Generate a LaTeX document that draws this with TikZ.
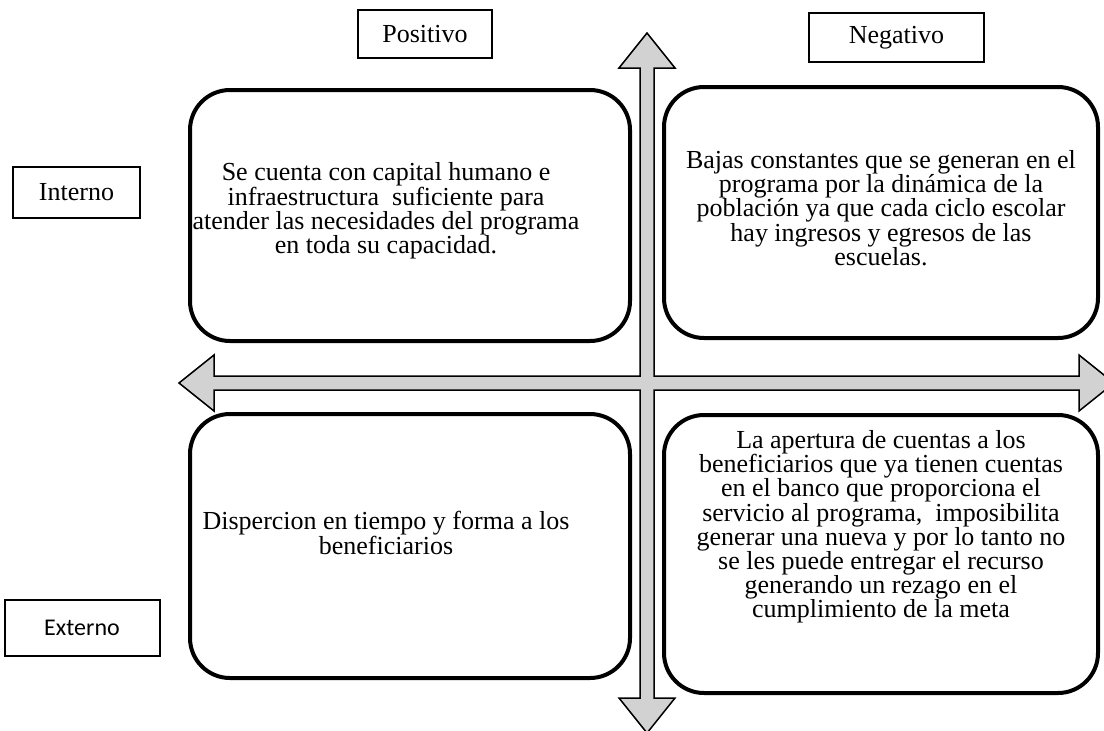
\documentclass[tikz,border=0pt]{standalone}
\usepackage{fontspec}
\setmainfont{Liberation Serif}
\newfontfamily\calibrifont{Carlito}
\definecolor{arrowgray}{RGB}{210,210,210}

\begin{document}
\begin{tikzpicture}[x=1pt,y=-1pt,
    quad box/.style={draw,line width=4pt,rounded corners=40pt},
    quad text/.style={align=center,inner sep=0pt,font=\fontsize{26}{24.2}\selectfont},
    side label/.style={draw,line width=2pt,inner sep=0pt,font=\fontsize{26}{30}\selectfont}]

    \useasboundingbox (0,0) rectangle (1104,731);
    \clip (0,0) rectangle (1104,731);

    % Define cross arrows
    \filldraw[fill=arrowgray,line width=1.5pt,line join=miter]
        (647,33) -- (675,68) -- (654,68) -- (654,376) -- (1079,376) -- (1079,355)
        -- (1114,383) -- (1079,411) -- (1079,390) -- (654,390) -- (654,698)
        -- (675,698) -- (647,733) -- (619,698) -- (640,698) -- (640,390)
        -- (214,390) -- (214,411) -- (179,383) -- (214,355) -- (214,376)
        -- (640,376) -- (640,68) -- (619,68) -- cycle;

    % Define boxes
    \node[quad box,minimum width=440pt,minimum height=251pt] (posint) at (410,215.5) {};
    \node[quad box,minimum width=434pt,minimum height=251pt] (negint) at (881,212.5) {};
    \node[quad box,minimum width=440pt,minimum height=264pt] (posext) at (410,546) {};
    \node[quad box,minimum width=434pt,minimum height=278pt] (negext) at (881,554) {};

    % Define texts
    \node[quad text] (posinttext) at (386,211) {Se cuenta con capital humano e\\
        infraestructura\ \ suficiente para\\
        atender las necesidades del programa\\
        en toda su capacidad.};
    \node[quad text] (neginttext) at (881,208) {Bajas constantes que se generan en el\\
        programa por la dinámica de la\\
        población ya que cada ciclo escolar\\
        hay ingresos y egresos de las\\
        escuelas.};
    \node[quad text] (posexttext) at (386,533) {Dispercion en tiempo y forma a los\\
        beneficiarios};
    \node[quad text] (negexttext) at (881,527) {La apertura de cuentas a los\\
        beneficiarios que ya tienen cuentas\\
        en el banco que proporciona el\\
        servicio al programa,\ \ imposibilita\\
        generar una nueva y por lo tanto no\\
        se les puede entregar el recurso\\
        generando un rezago en el\\
        cumplimiento de la meta};

    % Define side labels
    \node[side label,minimum width=134pt,minimum height=48pt] (pos) at (425,34) {Positivo};
    \node[side label,minimum width=175pt,minimum height=49pt] (neg) at (896.5,37.5) {Negativo};
    \node[side label,minimum width=127pt,minimum height=51pt] (int) at (76.5,192.5) {Interno};
    \node[side label,minimum width=155pt,minimum height=56pt,font=\calibrifont\fontsize{24}{30}\selectfont] (ext) at (82,628) {Externo};

\end{tikzpicture}
\end{document}
